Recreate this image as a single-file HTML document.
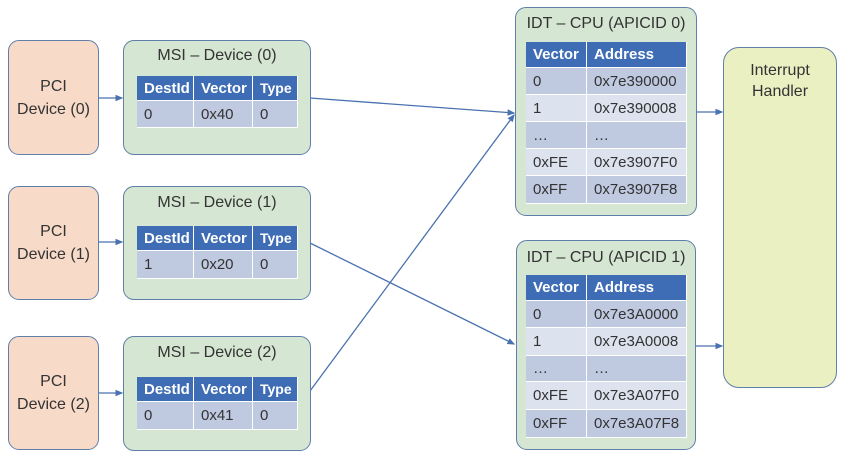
<!DOCTYPE html>
<html><head><meta charset="utf-8"><style>
body{margin:0;width:847px;height:460px;background:#fff;position:relative;overflow:hidden;font-family:"Liberation Sans",sans-serif;color:#333}
.b{position:absolute;box-sizing:border-box;border:1.5px solid #5f7fa8;border-radius:11px}
.pci{background:#f7dac8;display:flex;align-items:center;justify-content:center;text-align:center;font-size:16px;line-height:23px}
.grn{background:#d5e6d2}
.t{position:absolute;font-size:16px;text-align:center;left:0;right:0}
.c{position:absolute;box-sizing:border-box;font-size:15px;padding-left:7px;display:flex;align-items:center;border-right:1.5px solid #fff;border-bottom:1.5px solid #fff}
.h{background:#3e6db5;color:#fff;font-weight:bold}
.d1{background:#bfc9e0}
.d2{background:#dce2ee}
</style></head><body>
<svg style="position:absolute;left:0;top:0" width="847" height="460">
<defs><marker id="a" markerWidth="6" markerHeight="6" refX="5" refY="3" orient="auto"><path d="M0,0.5 L6,3 L0,5.5z" fill="#4a72b0"/></marker></defs>
<g stroke="#4a72b0" stroke-width="1.3" marker-end="url(#a)">
<line x1="98" y1="98" x2="122" y2="98"/>
<line x1="98" y1="242" x2="122" y2="242"/>
<line x1="98" y1="393" x2="122" y2="393"/>
<line x1="310" y1="98" x2="514" y2="113"/>
<line x1="310" y1="243" x2="514" y2="344"/>
<line x1="310" y1="391" x2="514" y2="115"/>
<line x1="697" y1="112" x2="722" y2="112"/>
<line x1="696" y1="346" x2="722" y2="346"/>
</g></svg>

<div class="b pci" style="left:8px;top:40px;width:91px;height:115px">PCI<br>Device (0)</div>
<div class="b pci" style="left:8px;top:186px;width:91px;height:114px">PCI<br>Device (1)</div>
<div class="b pci" style="left:8px;top:336px;width:91px;height:114px">PCI<br>Device (2)</div>

<div class="b grn" style="left:123px;top:40px;width:188px;height:115px"><div class="t" style="top:6px">MSI – Device (0)</div></div>
<div class="b grn" style="left:123px;top:186px;width:188px;height:114px"><div class="t" style="top:7px">MSI – Device (1)</div></div>
<div class="b grn" style="left:123px;top:336px;width:188px;height:115px"><div class="t" style="top:7px">MSI – Device (2)</div></div>

<div class="c h" style="left:137px;top:76px;width:57px;height:25px">DestId</div>
<div class="c h" style="left:194px;top:76px;width:59px;height:25px">Vector</div>
<div class="c h" style="left:253px;top:76px;width:45px;height:25px;font-size:14px">Type</div>
<div class="c d1" style="left:137px;top:101px;width:57px;height:27px">0</div>
<div class="c d1" style="left:194px;top:101px;width:59px;height:27px">0x40</div>
<div class="c d1" style="left:253px;top:101px;width:45px;height:27px">0</div>

<div class="c h" style="left:137px;top:226px;width:57px;height:25px">DestId</div>
<div class="c h" style="left:194px;top:226px;width:59px;height:25px">Vector</div>
<div class="c h" style="left:253px;top:226px;width:45px;height:25px;font-size:14px">Type</div>
<div class="c d1" style="left:137px;top:251px;width:57px;height:28px">1</div>
<div class="c d1" style="left:194px;top:251px;width:59px;height:28px">0x20</div>
<div class="c d1" style="left:253px;top:251px;width:45px;height:28px">0</div>

<div class="c h" style="left:137px;top:377px;width:57px;height:25px">DestId</div>
<div class="c h" style="left:194px;top:377px;width:59px;height:25px">Vector</div>
<div class="c h" style="left:253px;top:377px;width:45px;height:25px;font-size:14px">Type</div>
<div class="c d1" style="left:137px;top:402px;width:57px;height:28px">0</div>
<div class="c d1" style="left:194px;top:402px;width:59px;height:28px">0x41</div>
<div class="c d1" style="left:253px;top:402px;width:45px;height:28px">0</div>

<div class="b grn" style="left:515px;top:7px;width:182px;height:209px"><div class="t" style="top:7px">IDT – CPU (APICID 0)</div></div>
<div class="c h" style="left:526px;top:42px;width:61px;height:26px">Vector</div>
<div class="c h" style="left:587px;top:42px;width:100px;height:26px">Address</div>
<div class="c d1" style="left:526px;top:68px;width:61px;height:27px">0</div><div class="c d1" style="left:587px;top:68px;width:100px;height:27px">0x7e390000</div>
<div class="c d2" style="left:526px;top:95px;width:61px;height:27px">1</div><div class="c d2" style="left:587px;top:95px;width:100px;height:27px">0x7e390008</div>
<div class="c d1" style="left:526px;top:122px;width:61px;height:27px">…</div><div class="c d1" style="left:587px;top:122px;width:100px;height:27px">…</div>
<div class="c d2" style="left:526px;top:149px;width:61px;height:27px">0xFE</div><div class="c d2" style="left:587px;top:149px;width:100px;height:27px">0x7e3907F0</div>
<div class="c d1" style="left:526px;top:176px;width:61px;height:28px">0xFF</div><div class="c d1" style="left:587px;top:176px;width:100px;height:28px">0x7e3907F8</div>

<div class="b grn" style="left:516px;top:240px;width:180px;height:210px"><div class="t" style="top:8px">IDT – CPU (APICID 1)</div></div>
<div class="c h" style="left:526px;top:275px;width:61px;height:26px">Vector</div>
<div class="c h" style="left:587px;top:275px;width:100px;height:26px">Address</div>
<div class="c d1" style="left:526px;top:301px;width:61px;height:27px">0</div><div class="c d1" style="left:587px;top:301px;width:100px;height:27px">0x7e3A0000</div>
<div class="c d2" style="left:526px;top:328px;width:61px;height:28px">1</div><div class="c d2" style="left:587px;top:328px;width:100px;height:28px">0x7e3A0008</div>
<div class="c d1" style="left:526px;top:356px;width:61px;height:26px">…</div><div class="c d1" style="left:587px;top:356px;width:100px;height:26px">…</div>
<div class="c d2" style="left:526px;top:382px;width:61px;height:28px">0xFE</div><div class="c d2" style="left:587px;top:382px;width:100px;height:28px">0x7e3A07F0</div>
<div class="c d1" style="left:526px;top:410px;width:61px;height:28px">0xFF</div><div class="c d1" style="left:587px;top:410px;width:100px;height:28px">0x7e3A07F8</div>

<div class="b" style="left:723px;top:47px;width:114px;height:341px;background:#ebf0c2;border-radius:16px"><div class="t" style="top:12px;line-height:21px">Interrupt<br>Handler</div></div>
</body></html>
